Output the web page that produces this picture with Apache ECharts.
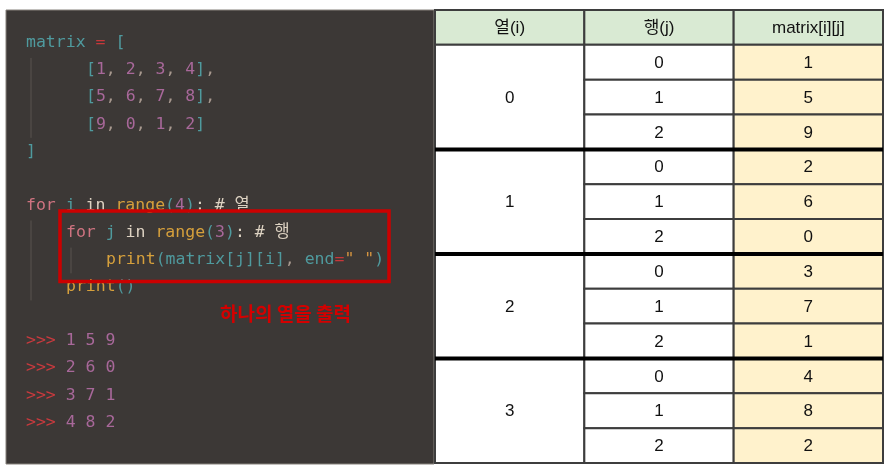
<!DOCTYPE html>
<html>
<head>
<meta charset="utf-8">
<script src="https://cdn.jsdelivr.net/npm/echarts@6/dist/echarts.min.js"></script>
<style>html,body{margin:0;padding:0;background:#fff}#c{width:891px;height:472px}</style>
</head>
<body>
<div id="c"></div>
<script>
// ---- data ----
const matrix = [
  [1, 2, 3, 4],
  [5, 6, 7, 8],
  [9, 0, 1, 2]
];
const colI = [0, 1, 2, 3];
const rowJ = [0, 1, 2];
const headerLabels = ['열(i)', '행(j)', 'matrix[i][j]'];
const noteText = '하나의 열을 출력';
const commentI = '열';
const commentJ = '행';

// ---- code panel (line number, indent column, tokens) ----
const palette = {
  t: '#4f9a9e', r: '#c8373a', p: '#a8689a', g: '#a8998f', w: '#ddd2c2',
  k: '#cf7380', f: '#d6a03c', o: '#d59440', pr: '#c83a3e'
};
function rowTokens(row, last) {
  const out = [['[', 't']];
  row.forEach((v, k) => {
    out.push([String(v), 'p']);
    if (k < row.length - 1) out.push([', ', 'g']);
  });
  out.push([']', 't']);
  if (!last) out.push([',', 'g']);
  return out;
}
const codeLines = [];
codeLines.push({ line: 0, col: 0, tokens: [['matrix', 't'], [' ', 'w'], ['=', 'r'], [' ', 'w'], ['[', 't']] });
matrix.forEach((row, k) => codeLines.push({ line: 1 + k, col: 6, tokens: rowTokens(row, k === matrix.length - 1) }));
codeLines.push({ line: 4, col: 0, tokens: [[']', 't']] });
codeLines.push({ line: 6, col: 0, tokens: [['for', 'k'], [' ', 'w'], ['i', 't'], [' in ', 'w'], ['range', 'f'], ['(', 't'], [String(colI.length), 'p'], [')', 't'], [': ', 'w'], ['# ' + commentI, 'w']] });
codeLines.push({ line: 7, col: 4, tokens: [['for', 'k'], [' ', 'w'], ['j', 't'], [' in ', 'w'], ['range', 'f'], ['(', 't'], [String(rowJ.length), 'p'], [')', 't'], [': ', 'w'], ['# ' + commentJ, 'w']] });
codeLines.push({ line: 8, col: 8, tokens: [['print', 'f'], ['(', 't'], ['matrix[j][i]', 't'], [', ', 'g'], ['end', 't'], ['=', 'r'], ['" "', 'o'], [')', 't']] });
codeLines.push({ line: 9, col: 4, tokens: [['print', 'f'], ['()', 't']] });
colI.forEach((i, n) => {
  codeLines.push({ line: 11 + n, col: 0, tokens: [['>>>', 'pr'], [' ' + rowJ.map(j => matrix[j][i]).join(' '), 'p']] });
});
const noteAnno = { line: 10, col: 19.4 };
const boxAnno = [[3.4, 6.2], [36.3, 8.8]];
const guides = [[0.5, 0.55, 3.5], [0.5, 6.55, 9.5], [4.5, 7.55, 8.5]];

// ---- table cells ----
const tableRows = ['h'];
colI.forEach(i => rowJ.forEach(j => tableRows.push(i + '-' + j)));
const cells = [];
headerLabels.forEach((t, c) => cells.push([c, 0, 1, t, 'h']));
colI.forEach((i, n) => {
  cells.push([0, 1 + n * 3, 3, String(i), 'w']);
  rowJ.forEach(j => {
    cells.push([1, 1 + n * 3 + j, 1, String(j), 'w']);
    cells.push([2, 1 + n * 3 + j, 1, String(matrix[j][i]), 'v']);
  });
});
const separators = colI.slice(1).map(i => [0, 1 + i * 3]);

const fills = { h: '#d9ead3', w: '#ffffff', v: '#fff2cc' };
const codeFont = '16.5px "DejaVu Sans Mono", "Noto Sans CJK KR", monospace';
const rich = {};
Object.keys(palette).forEach(k => {
  rich[k] = { fill: palette[k], font: codeFont };
});

const chart = echarts.init(document.getElementById('c'), null, { renderer: 'canvas' });
chart.setOption({
  animation: false,
  backgroundColor: '#ffffff',
  grid: [
    { left: 6, top: 10, width: 428, height: 454, show: true, backgroundColor: '#3c3836', borderColor: '#85807b', borderWidth: 1 },
    { left: 435, top: 10, width: 448, height: 453, show: false }
  ],
  xAxis: [
    { gridIndex: 0, type: 'value', min: -2, max: 40.8, show: false },
    { gridIndex: 1, type: 'category', data: headerLabels, show: false }
  ],
  yAxis: [
    { gridIndex: 0, type: 'value', inverse: true, min: -1.218, max: 15.535, show: false },
    { gridIndex: 1, type: 'category', data: tableRows, inverse: true, show: false }
  ],
  series: [
    {
      type: 'custom', xAxisIndex: 0, yAxisIndex: 0, silent: true,
      data: guides,
      renderItem: function (params, api) {
        const a = api.coord([api.value(0), api.value(1)]);
        const b = api.coord([api.value(0), api.value(2)]);
        return { type: 'line', shape: { x1: a[0], y1: a[1], x2: b[0], y2: b[1] }, style: { stroke: '#58534e', lineWidth: 1 } };
      }
    },
    {
      type: 'custom', xAxisIndex: 0, yAxisIndex: 0, silent: true,
      data: codeLines.map(l => [l.col, l.line]),
      renderItem: function (params, api) {
        const p = api.coord([api.value(0), api.value(1)]);
        const toks = codeLines[params.dataIndex].tokens;
        const text = toks.map(t => '{' + t[1] + '|' + t[0] + '}').join('');
        return { type: 'text', x: p[0], y: p[1], style: { text: text, rich: rich, verticalAlign: 'middle', align: 'left', font: codeFont } };
      }
    },
    {
      type: 'custom', xAxisIndex: 0, yAxisIndex: 0, silent: true,
      data: [[noteAnno.col, noteAnno.line]],
      renderItem: function (params, api) {
        const p = api.coord([api.value(0), api.value(1)]);
        return { type: 'text', x: p[0], y: p[1], style: { text: noteText, fill: '#d40000', verticalAlign: 'middle', font: 'bold 19px "Noto Sans CJK KR"' } };
      }
    },
    {
      type: 'custom', xAxisIndex: 0, yAxisIndex: 0, silent: true,
      data: [[boxAnno[0][0], boxAnno[0][1], boxAnno[1][0], boxAnno[1][1]]],
      renderItem: function (params, api) {
        const a = api.coord([api.value(0), api.value(1)]);
        const b = api.coord([api.value(2), api.value(3)]);
        return { type: 'rect', shape: { x: a[0], y: a[1], width: b[0] - a[0], height: b[1] - a[1] }, style: { fill: 'none', stroke: '#cc0000', lineWidth: 3.5 } };
      }
    },
    {
      type: 'custom', xAxisIndex: 1, yAxisIndex: 1, silent: true,
      data: cells,
      renderItem: function (params, api) {
        const c = api.coord([api.value(0), api.value(1)]);
        const s = api.size([1, 1]);
        const d = cells[params.dataIndex];
        const x0 = c[0] - s[0] / 2, y0 = c[1] - s[1] / 2, h = s[1] * d[2];
        return {
          type: 'group', children: [
            { type: 'rect', shape: { x: x0, y: y0, width: s[0], height: h }, style: { fill: fills[d[4]], stroke: '#3d3d3d', lineWidth: 2 } },
            { type: 'text', x: x0 + s[0] / 2, y: y0 + h / 2 + 1, style: { text: d[3], fill: '#111', align: 'center', verticalAlign: 'middle', font: '17px "Liberation Sans", Arial, "Noto Sans CJK KR"' } }
          ]
        };
      }
    },
    {
      type: 'custom', xAxisIndex: 1, yAxisIndex: 1, silent: true,
      data: separators,
      renderItem: function (params, api) {
        const c = api.coord([api.value(0), api.value(1)]);
        const s = api.size([1, 1]);
        const x0 = c[0] - s[0] / 2, y0 = c[1] - s[1] / 2;
        return { type: 'line', shape: { x1: x0, y1: y0, x2: x0 + s[0] * headerLabels.length, y2: y0 }, style: { stroke: '#000', lineWidth: 4 } };
      }
    }
  ]
});
</script>
</body>
</html>
